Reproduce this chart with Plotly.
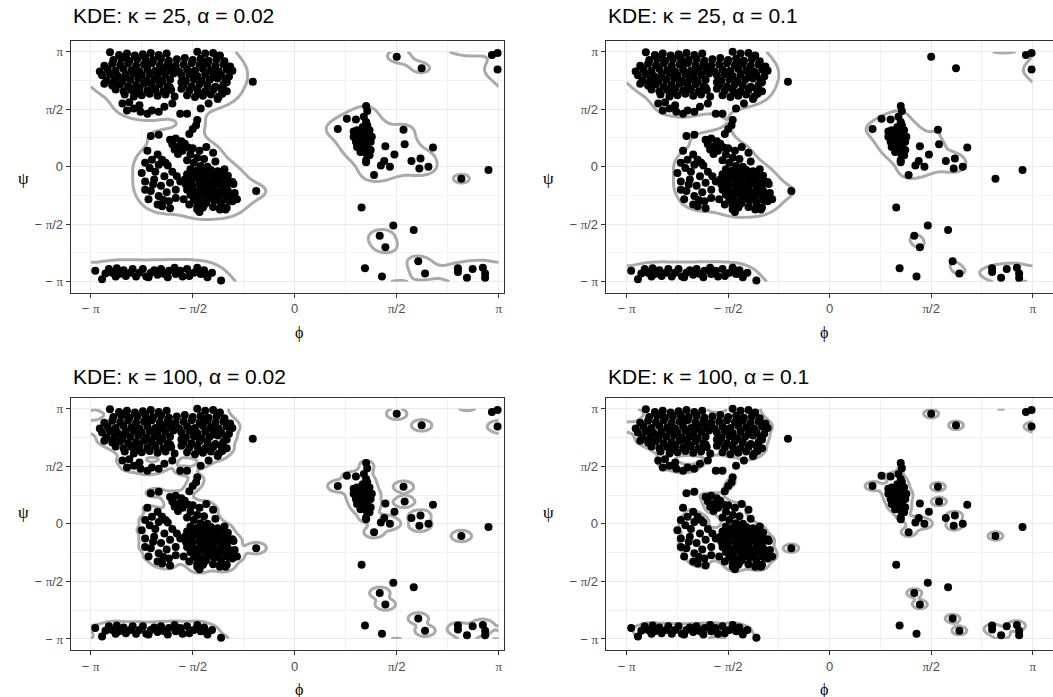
import numpy as np
import plotly.graph_objects as go

# ---------------- data: (phi, psi) in degrees ----------------
# dense regions: every dot drawn there hides about OVERPLOT overlapping residues
OVERPLOT = 2

beta_region = [
    (-163,179),(-155,175),(-148,177),(-141,174),(-134,176),(-127,178),(-120,175),(-113,177),(-86,180),(-79,177),(-72,178),(-66,174),
    (-160,167),(-153,169),(-146,166),(-139,168),(-132,170),(-125,167),(-118,169),(-111,166),(-104,168),(-97,170),(-90,167),(-83,169),(-76,166),(-69,168),(-62,165),
    (-168,158),(-161,161),(-154,159),(-147,162),(-140,158),(-133,160),(-126,162),(-119,159),(-112,161),(-105,158),(-98,160),(-91,162),(-84,159),(-77,161),(-70,158),(-63,160),(-57,157),
    (-172,149),(-165,152),(-158,150),(-151,153),(-144,151),(-137,149),(-130,152),(-123,150),(-116,153),(-109,151),(-102,149),(-95,152),(-88,150),(-81,153),(-74,151),(-67,149),(-60,152),(-55,150),
    (-170,143),(-163,145),(-156,142),(-149,144),(-142,146),(-135,143),(-128,145),(-121,142),(-114,144),(-107,146),(-100,143),(-93,145),(-86,142),(-79,144),(-72,146),(-65,143),(-58,141),
    (-166,135),(-159,137),(-152,134),(-145,136),(-138,138),(-131,135),(-124,137),(-117,134),(-110,136),(-96,135),(-89,137),(-82,134),(-75,136),(-68,138),(-61,135),
    (-168,130),(-161,127),(-154,129),(-147,126),(-140,128),(-133,130),(-126,127),(-119,129),(-112,126),(-98,128),(-91,126),(-84,129),(-77,127),(-70,125),(-63,128),
    (-158,121),(-151,118),(-144,120),(-137,122),(-130,119),(-123,121),(-116,118),(-109,120),(-100,122),(-93,119),(-86,121),(-79,118),(-72,120),(-65,122),(-60,118),
    (-150,113),(-142,110),(-135,112),(-128,114),(-121,111),(-114,113),(-106,110),(-95,112),(-88,109),(-81,111),(-74,113),(-67,110),
    (-150,172),(-130,164),(-110,156),(-90,148),(-70,140),(-150,140),(-130,132),(-110,124),(-85,116),(-140,116),(-120,148),(-100,132),(-80,164),(-60,132),(-160,131),
    (-152,99),(-146,101),(-148,88),(-142,91),(-136,86),(-137,96),(-130,83),(-126,88),(-120,86),(-115,94),(-108,99),(-101,83),(-95,83),(-83,91),(-76,99),(-68,106),(-64,114),
]

alpha_region = [
    (-86,73),(-87,65),(-90,59),(-93,51),
    (-127,48),(-120,50),
    (-110,42),(-105,44),(-100,40),(-108,35),(-102,32),(-97,36),(-106,27),(-99,25),(-94,30),(-103,20),
    (-130,25),(-121,19),(-126,11),(-132,6),(-117,11),(-114,6),(-120,3),(-128,-2),(-123,-8),(-135,-10),
    (-132,-23),(-124,-20),(-132,-36),(-127,-38),(-129,-51),(-120,-46),(-121,-59),(-117,-62),(-111,-54),(-105,-36),
    (-105,-49),(-98,-51),(-101,-23),(-93,-59),(-115,-15),(-110,-25),(-118,-30),(-113,-40),(-108,-8),(-112,2),
    (-104,-15),(-125,-28),(-116,-52),(-110,-65),
    (-90,29),(-84,25),(-78,31),(-92,19),(-86,14),(-80,12),(-89,6),(-83,1),(-77,0),(-95,10),(-72,22),(-70,8),
    (-92,-4),(-86,-6),(-80,-3),(-74,-5),(-68,-7),(-62,-4),
    (-95,-12),(-89,-14),(-83,-11),(-77,-13),(-71,-15),(-65,-12),(-59,-14),
    (-97,-20),(-91,-22),(-85,-19),(-79,-21),(-73,-23),(-67,-20),(-61,-22),(-55,-24),
    (-96,-28),(-90,-30),(-84,-27),(-78,-29),(-72,-31),(-66,-28),(-60,-30),(-54,-27),
    (-95,-36),(-89,-38),(-83,-35),(-77,-37),(-71,-39),(-65,-36),(-59,-38),(-53,-41),
    (-92,-44),(-86,-46),(-80,-43),(-74,-45),(-68,-47),(-62,-44),(-56,-46),
    (-89,-52),(-83,-54),(-77,-51),(-71,-53),(-65,-55),(-59,-52),(-55,-54),(-51,-51),
    (-86,-62),(-80,-60),(-72,-63),(-65,-61),(-60,-64),
    (-86,-67),(-81,-64),(-66,-67),(-61,-67),(-84,-71),
    (-80,-25),(-74,-33),(-68,-41),(-76,-49),(-82,-17),(-70,-25),(-62,-33),(-86,-41),(-78,-57),
]

strip_region = [
    (-176,-163),(-170,-176),(-164,-160),(-161,-166),(-157,-159),(-155,-168),(-151,-162),(-149,-171),
    (-145,-166),(-140,-172),(-137,-166),(-134,-160),(-131,-172),(-127,-166),(-124,-162),(-121,-169),
    (-118,-160),(-115,-168),(-112,-173),(-106,-158),(-105,-168),(-101,-163),(-95,-160),(-93,-171),
    (-89,-166),(-86,-158),(-83,-168),(-80,-162),(-77,-173),(-73,-166),(-65,-178),
    (-167,-167),(-158,-172),(-143,-160),(-129,-173),(-111,-163),(-99,-172),(-79,-168),
]

left_alpha_region = [
    (63,95),(64,87),(46,75),(54,74),
    (61,78),(63,70),(64,65),(60,62),(55,57),(52,55),(57,52),(61,55),(66,57),
    (52,47),(57,44),(61,47),(66,47),(68,47),(54,39),(58,39),(63,39),(67,39),
    (55,31),(60,29),(64,31),(67,26),(58,23),(63,21),(66,18),(63,10),
]

# isolated dots that hide several identical residues: (phi, psi, count)
repeated_points = [
    (90,172,6),(112,154,6),(179,152,6),(96,58,6),(97,35,6),(111,13,6),(110,-3,6),
    (76,2,6),(84,0,6),(70,-13,6),(147,-19,6),(75,-108,6),(80,-126,6),(109,-148,6),
    (115,-167,6),(144,-165,6),(152,-174,6),(166,-158,6),(-34,-38,6),(38,59,6),
]

# isolated single residues
single_points = [
    (174,175),(179,178),(80,32),(122,30),(88,19),(103,9),(79,9),(118,0),(63,7),(171,-5),
    (59,-64),(87,-92),(105,-99),(62,-159),(77,-172),(144,-159),(157,-160),(168,-167),(168,-174),
    (-37,133),
]

panel_params = [(25, 0.02), (25, 0.1), (100, 0.02), (100, 0.1)]
tick_vals = [-np.pi, -np.pi / 2, 0, np.pi / 2, np.pi]
minor_vals = [-3 * np.pi / 4, -np.pi / 4, np.pi / 4, 3 * np.pi / 4]
PI = "<span style='font-family:Liberation Serif'>π</span>"
tick_text = ["− " + PI, "− " + PI + "/2", "0", PI + "/2", PI]

# ---------------- weighted von Mises KDE on the torus ----------------
dense = beta_region + alpha_region + strip_region + left_alpha_region
rows = ([(p, s, OVERPLOT) for p, s in dense] + list(repeated_points)
        + [(p, s, 1) for p, s in single_points])
arr = np.array(rows, dtype=float)
phi = np.deg2rad(arr[:, 0])
psi = np.deg2rad(arr[:, 1])
w = arr[:, 2]
N = w.sum()
grid = np.linspace(-np.pi, np.pi, 131)


def kde_level(kappa, alpha):
    kx = np.exp(kappa * (np.cos(grid[:, None] - phi[None, :]) - 1))
    ky = np.exp(kappa * (np.cos(grid[:, None] - psi[None, :]) - 1))
    z = (ky * w[None, :]) @ kx.T / N
    kxp = np.exp(kappa * (np.cos(phi[:, None] - phi[None, :]) - 1))
    kyp = np.exp(kappa * (np.cos(psi[:, None] - psi[None, :]) - 1))
    # leave-one-out density at each observed residue
    g = ((kxp * kyp) @ w - 1.0) / N
    order = np.argsort(g)
    cw = np.cumsum(w[order])
    lev = g[order][np.searchsorted(cw, alpha * N)]
    return z, float(lev)


W, H = 1053, 697
boxes = [(70.7, 504.0, 40.7, 292.7), (605.7, 1053.0, 40.7, 292.7),
         (70.7, 504.0, 397.7, 650.0), (605.7, 1053.0, 397.7, 650.0)]
xranges = [[-3.450, 3.223], [-3.466, 3.456], [-3.450, 3.223], [-3.466, 3.456]]
yrange = [-3.442, 3.442]

fig = go.Figure()
annotations = []
for i, (kappa, alpha) in enumerate(panel_params):
    ax = "" if i == 0 else str(i + 1)
    z, lev = kde_level(kappa, alpha)
    fig.add_trace(go.Contour(
        x=grid, y=grid, z=z, autocontour=False,
        contours=dict(start=lev, end=lev, size=lev, coloring="none", showlines=True),
        line=dict(color="#aaaaaa", width=3, smoothing=0),
        showscale=False, hoverinfo="skip", xaxis="x" + ax, yaxis="y" + ax,
    ))
    fig.add_trace(go.Scatter(
        x=phi, y=psi, mode="markers",
        marker=dict(color="black", size=8, line=dict(width=0)),
        showlegend=False, hoverinfo="skip", xaxis="x" + ax, yaxis="y" + ax,
    ))
    l, r, t, b = boxes[i]
    common = dict(showline=True, mirror=True, linecolor="#333333", linewidth=1,
                  ticks="outside", ticklen=4, tickcolor="#333333", tickwidth=1,
                  showgrid=True, gridcolor="#ebebeb", gridwidth=1.1, zeroline=False,
                  tickfont=dict(family="Liberation Sans, Arial", size=13, color="#4d4d4d"),
                  minor=dict(tickvals=minor_vals, showgrid=True, gridcolor="#f2f2f2",
                             gridwidth=0.6, ticks=""),
                  tickmode="array", tickvals=tick_vals, ticktext=tick_text)
    fig.layout["xaxis" + ax] = dict(common, domain=[l / W, r / W], range=xranges[i],
                                    anchor="y" + ax)
    fig.layout["yaxis" + ax] = dict(common, domain=[1 - b / H, 1 - t / H], range=yrange,
                                    anchor="x" + ax)
    title_y = 16 if i < 2 else 376
    annotations.append(dict(
        text=f"KDE: κ = {kappa}, α = {alpha}", x=l / W, y=1 - title_y / H,
        xref="paper", yref="paper", xanchor="left", yanchor="middle", showarrow=False,
        font=dict(family="Liberation Sans, Arial", size=21, color="black")))
    psi_x = 16 if i % 2 == 0 else 548
    mid_y = (t + b) / 2
    annotations.append(dict(
        text="ψ", x=psi_x / W, y=1 - mid_y / H, xref="paper", yref="paper",
        showarrow=False, font=dict(family="Liberation Serif", size=17, color="black")))
    phi_x = 294 if i % 2 == 0 else 829
    phi_y = 333 if i < 2 else 690
    annotations.append(dict(
        text="ϕ", x=phi_x / W, y=1 - phi_y / H, xref="paper", yref="paper",
        yanchor="middle", showarrow=False, borderpad=0,
        font=dict(family="Liberation Serif", size=16, color="black")))

fig.update_layout(width=W, height=H, margin=dict(l=0, r=0, t=0, b=0),
                  paper_bgcolor="white", plot_bgcolor="white", showlegend=False,
                  annotations=annotations)
fig.write_html("out.html")
